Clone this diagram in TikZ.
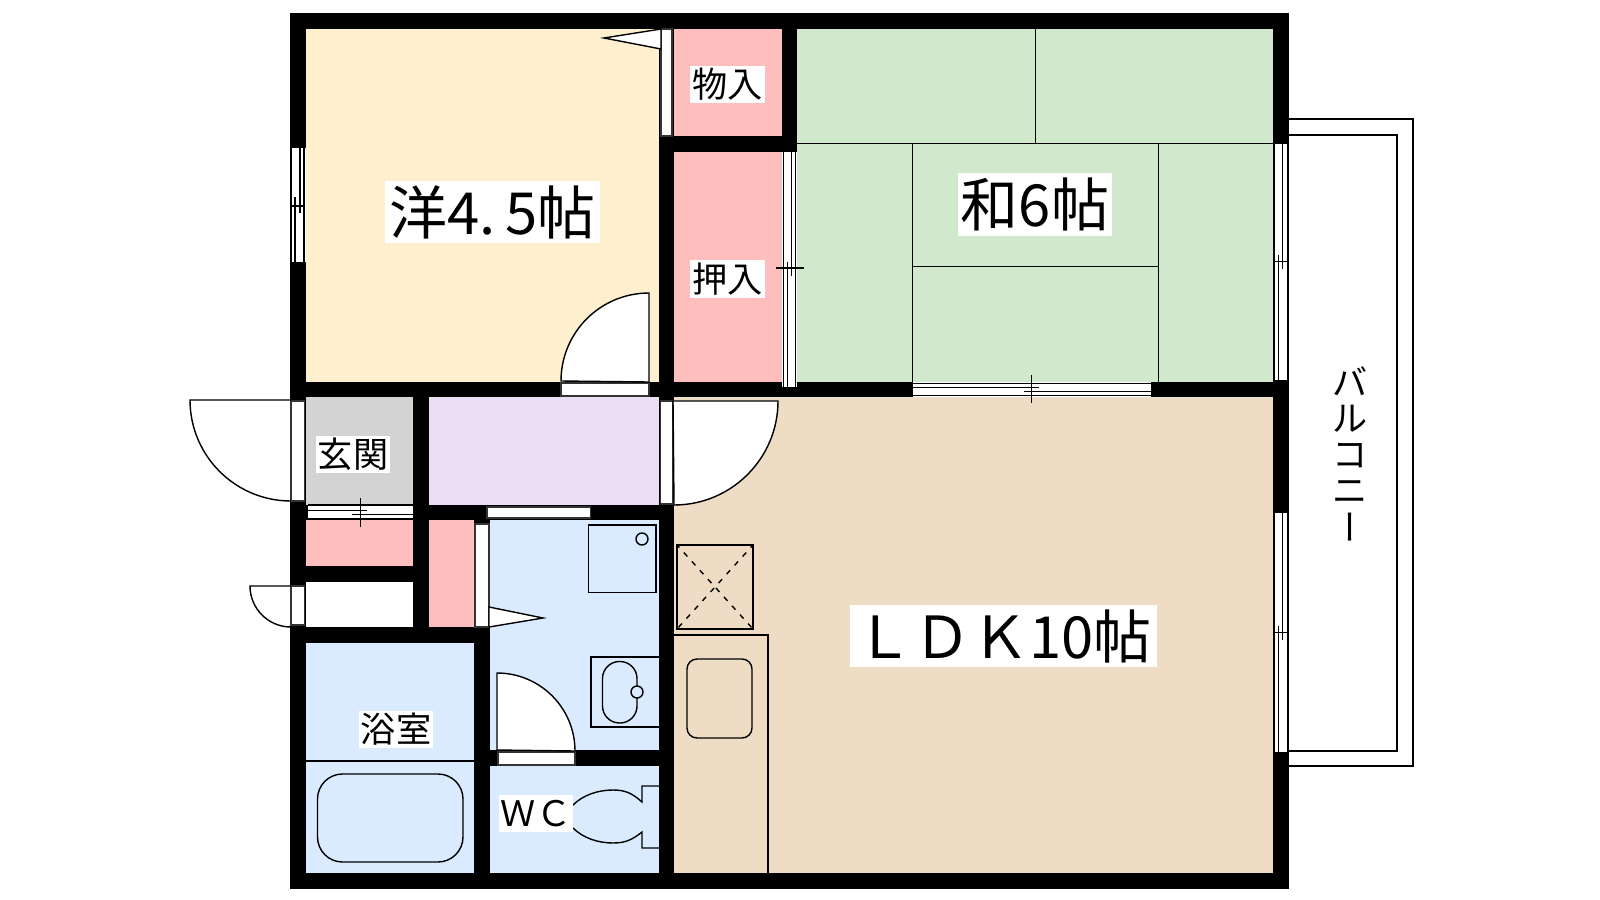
\documentclass[tikz,border=0pt]{standalone}
\usepackage{fontspec}
\setmainfont{Noto Sans CJK JP}
\definecolor{westroom}{HTML}{FEF0CF}
\definecolor{tatami}{HTML}{D2E8CC}
\definecolor{closet}{HTML}{FFBEBE}
\definecolor{hallway}{HTML}{ECDDF5}
\definecolor{genkan}{HTML}{D3D3D3}
\definecolor{wetroom}{HTML}{DBEBFF}
\definecolor{livingroom}{HTML}{EEDDC4}
\tikzset{
	fine/.style={line width=0.4pt},
	sash/.style={line width=0.45pt},
	leaf/.style={fine,fill=white},
	pane/.style={fine,draw=black!80,fill=white},
	roomlabel/.style={fill=white,inner sep=0pt,text=black},
	biglabel/.style={roomlabel,font=\fontsize{16.5}{17}\selectfont,minimum height=0.62cm},
	smalllabel/.style={roomlabel,font=\fontsize{10}{11}\selectfont,minimum width=0.74cm,minimum height=0.37cm}
}
\begin{document}
\begin{tikzpicture}[x=0.01cm,y=-0.01cm]
			\useasboundingbox (0,0) rectangle (1600,900);
			\fill[westroom] (306,29) rectangle (660,382);
			\fill[closet] (674,29) rectangle (782,136);
			\fill[closet] (674,152) rectangle (782,382);
			\fill[tatami] (797,29) rectangle (1273,382);
			\fill[genkan] (306,397) rectangle (413,505);
			\fill[hallway] (429,397) rectangle (660,505);
			\fill[closet] (306,520) rectangle (413,566);
			\fill[closet] (429,520) rectangle (474,627);
			\fill[wetroom] (490,520) rectangle (660,750);
			\fill[wetroom] (306,643) rectangle (474,873);
			\fill[wetroom] (490,766) rectangle (660,873);
			\fill[livingroom] (674,397) rectangle (1273,873);
			\draw[fine] (797,143.5) -- (1273,143.5);
			\draw[fine] (1035.5,29) -- (1035.5,143.5);
			\draw[fine] (912.5,143.5) -- (912.5,382);
			\draw[fine] (1158.5,143.5) -- (1158.5,382);
			\draw[fine] (912.5,266.5) -- (1158.5,266.5);
			\fill (290,13) rectangle (306,889);
			\fill (290,13) rectangle (1289,29);
			\fill (290,873) rectangle (1289,889);
			\fill (1273,13) rectangle (1289,889);
			\fill (659,29) rectangle (674,889);
			\fill (782,29) rectangle (797,152);
			\fill (659,136) rectangle (797,152);
			\fill (290,382) rectangle (1289,397);
			\fill (413,397) rectangle (429,643);
			\fill (306,505) rectangle (413,520);
			\fill (306,566) rectangle (413,582);
			\fill (290,627) rectangle (490,643);
			\fill (429,505) rectangle (659,520);
			\fill (474,520) rectangle (490,889);
			\fill (490,750) rectangle (659,766);
			\fill[white] (290,148) rectangle (306,262);
			\draw[sash] (291,148) -- (291,262);
			\draw[sash] (304,148) -- (304,262);
			\draw[sash] (300,148) -- (300,213);
			\draw[sash] (295,197) -- (295,262);
			\draw[sash] (291,206) -- (304,206);
			\draw[pane] (661,29) rectangle (672,136);
			\draw[leaf] (661,29) -- (604,38) -- (661,49) -- cycle;
			\draw[pane] (561,383) rectangle (649,396);
			\draw[leaf] (649,382) -- (649,293) arc[start angle=-90,end angle=-180,radius=88] -- cycle;
			\fill[white] (782,152) rectangle (797,387);
			\draw[sash] (783.3,152) -- (783.3,387);
			\draw[sash] (795.3,152) -- (795.3,387);
			\draw[sash] (791.3,152) -- (791.3,276);
			\draw[sash] (787.3,262) -- (787.3,387);
			\draw[sash] (776,268) -- (804,268);
			\fill[white] (913,382) rectangle (1151,397);
			\draw[sash] (913,383.3) -- (1151,383.3);
			\draw[sash] (913,395.3) -- (1151,395.3);
			\draw[sash] (913,387.3) -- (1039,387.3);
			\draw[sash] (1024,391.3) -- (1151,391.3);
			\draw[sash] (1031.3,375) -- (1031.3,403);
			\fill[white] (1273.5,144) rectangle (1289,380);
			\draw[sash] (1274.3,144) -- (1274.3,380);
			\draw[sash] (1287.7,144) -- (1287.7,380);
			\draw[sash] (1282.3,144) -- (1282.3,269);
			\draw[sash] (1278.3,255) -- (1278.3,380);
			\draw[sash] (1274.3,261.3) -- (1287.7,261.3);
			\fill[white] (1273.5,513) rectangle (1289,752);
			\draw[sash] (1274.3,513) -- (1274.3,752);
			\draw[sash] (1287.7,513) -- (1287.7,752);
			\draw[sash] (1282.3,513) -- (1282.3,640);
			\draw[sash] (1278.3,626) -- (1278.3,752);
			\draw[sash] (1274.3,632.5) -- (1287.7,632.5);
			\draw[fine] (1289,119) -- (1413,119) -- (1413,766) -- (1289,766);
			\draw[fine] (1289,135) -- (1397,135) -- (1397,751) -- (1289,751);
			\draw[pane] (291,401) rectangle (304.5,501);
			\draw[fine] (291,400) -- (190,400) arc[start angle=180,end angle=90,radius=101];
			\fill[white] (308,505) rectangle (413,519);
			\draw[sash] (308,505) -- (413,505);
			\draw[sash] (308,518.3) -- (413,518.3);
			\draw[sash] (308,510.3) -- (367,510.3);
			\draw[sash] (352,514.3) -- (413,514.3);
			\draw[sash] (360.3,498) -- (360.3,526.5);
			\fill[white] (306,582) rectangle (413,627);
			\draw[pane] (291,586) rectangle (304.5,625);
			\draw[fine] (291,586) -- (250,586) arc[start angle=180,end angle=90,radius=41];
			\draw[pane] (487,507) rectangle (590.5,518);
			\draw[pane] (475,524) rectangle (489,627);
			\draw[leaf] (489,607) -- (543,618) -- (489,627) -- cycle;
			\draw[pane] (660.5,401) rectangle (673,504);
			\draw[leaf] (673,401) -- (778,401) arc[start angle=0,end angle=90,radius=104] -- cycle;
			\draw[fine] (588.5,525) rectangle (656,592.5);
			\draw[fine] (642,539) circle (6);
			\draw[fine] (659,657) -- (591,657) -- (591,727) -- (659,727);
			\draw[fine,rounded corners=0.17cm] (602.5,661.5) rectangle (637,723);
			\draw[fine,fill=wetroom] (637,692) circle (6);
			\draw[pane] (498,752) rectangle (575,765);
			\draw[leaf] (497,750) -- (497,673) arc[start angle=-90,end angle=0,radius=78] -- cycle;
			\draw[fine] (306,761) -- (474,761);
			\draw[fine,rounded corners=0.25cm] (317.5,774) rectangle (463,862);
			\draw[fine] (659,786) -- (642,786) -- (642,802) .. controls (632,793) and (625,790) .. (613,790) .. controls (598,790) and (583,795) .. (573,805);
			\draw[fine] (659,848) -- (642,848) -- (642,832) .. controls (632,840) and (625,843) .. (613,843) .. controls (598,843) and (583,838) .. (573,828);
			\draw[line width=0.5pt] (677,545) rectangle (753,629);
			\draw[fine,dash pattern=on 1.5pt off 1.9pt,dash phase=0.5pt] (677,545) -- (753,629);
			\draw[fine,dash pattern=on 1.5pt off 1.9pt,dash phase=0.5pt] (753,545) -- (677,629);
			\draw[fine] (674,635) -- (768,635) -- (768,873);
			\draw[fine,rounded corners=0.1cm] (687,659) rectangle (752,738);
			\node[biglabel,minimum width=2.15cm] (yoshitsu) at (492.5,212) {洋4.\,5帖};
			\node[biglabel,minimum width=1.54cm] (washitsu) at (1035,204.5) {和6帖};
			\node[biglabel,minimum width=3.07cm] (ldk) at (1003.5,636) {ＬＤＫ10帖};
			\node[smalllabel] (monoire) at (727.5,84.5) {物入};
			\node[smalllabel] (oshiire) at (727.5,279) {押入};
			\node[smalllabel] (entrance) at (353,454.5) {玄関};
			\node[smalllabel] (bath) at (396,729.5) {浴室};
			\node[smalllabel] (toilet) at (536,813.5) {ＷＣ};
			\node[align=center,inner sep=0pt,anchor=north,font=\fontsize{10}{10.24}\selectfont] (balcony) at (1350.5,366) {バ\\ル\\コ\\ニ\\\raisebox{0.85em}[0pt][0pt]{\rotatebox{-90}{ー}\kern3.4pt}};
\end{tikzpicture}
\end{document}
